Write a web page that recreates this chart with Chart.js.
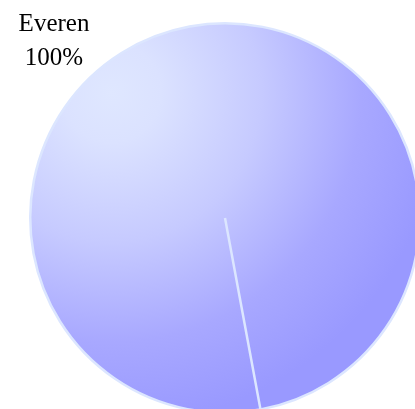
<!DOCTYPE html>
<html>
<head>
<meta charset="utf-8">
<script src="https://cdn.jsdelivr.net/npm/chart.js@4/dist/chart.umd.min.js"></script>
<style>
  html, body { margin: 0; padding: 0; background: #ffffff; overflow: hidden; width: 415px; height: 409px; }
  canvas { display: block; }
</style>
</head>
<body>
<canvas id="c" width="450" height="436"></canvas>
<script>
const categories = ['Everen'];
const values = [100];

const labelPlugin = {
  id: 'outerLabel',
  afterDraw(chart) {
    const ctx = chart.ctx;
    const total = values.reduce((a, b) => a + b, 0);
    ctx.save();
    ctx.fillStyle = '#000000';
    ctx.font = '25px "Liberation Serif", "Times New Roman", serif';
    ctx.textAlign = 'center';
    ctx.textBaseline = 'alphabetic';
    categories.forEach((name, i) => {
      const pct = Math.round(values[i] / total * 100) + '%';
      ctx.fillText(name, 54, 31);
      ctx.fillText(pct, 54, 65);
    });
    ctx.restore();
  }
};

function grad(context) {
  const chart = context.chart;
  const area = chart.chartArea;
  if (!area) return '#aaaaff';
  const cx = (area.left + area.right) / 2;
  const cy = (area.top + area.bottom) / 2;
  const r = Math.min(area.right - area.left, area.bottom - area.top) / 2;
  const gx = cx - 0.58 * r, gy = cy - 0.64 * r;
  const g = chart.ctx.createRadialGradient(gx, gy, 0, gx, gy, 1.7 * r);
  g.addColorStop(0, '#dfe7ff');
  g.addColorStop(0.15, '#dbe2ff');
  g.addColorStop(0.45, '#c6caff');
  g.addColorStop(0.75, '#a8a8ff');
  g.addColorStop(1, '#9999ff');
  return g;
}

new Chart(document.getElementById('c'), {
  type: 'pie',
  data: {
    labels: categories,
    datasets: [{
      data: values,
      backgroundColor: grad,
      borderColor: '#dce6ff',
      borderWidth: 2.5
    }]
  },
  options: {
    responsive: false,
    animation: false,
    rotation: 169.5,
    layout: { padding: 22 },
    plugins: {
      legend: { display: false },
      tooltip: { enabled: false }
    }
  },
  plugins: [labelPlugin]
});
</script>
</body>
</html>
